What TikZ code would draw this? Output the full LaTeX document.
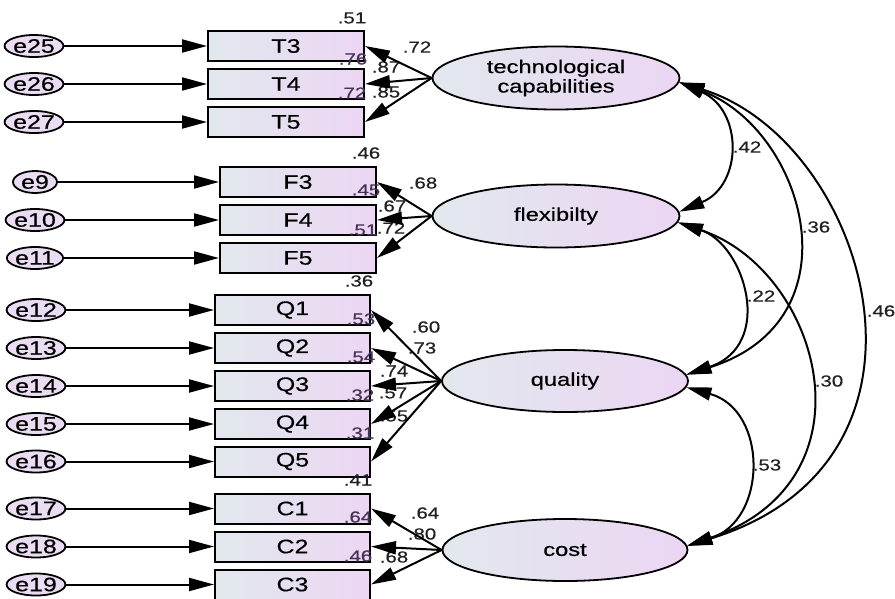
\documentclass[tikz,border=0pt]{standalone}
\usepackage{fontspec}
\usetikzlibrary{shapes.geometric,arrows.meta}
\newfontfamily\amos[FakeStretch=1.28,FakeBold=0.5]{Liberation Sans}
\definecolor{boxL}{RGB}{226,232,238}
\definecolor{boxR}{RGB}{236,214,243}
\definecolor{errfill}{RGB}{234,220,242}
\definecolor{numcol}{RGB}{34,34,34}
\definecolor{rsqcol}{RGB}{70,52,88}
\tikzset{
  obs/.style={draw, line width=2pt, minimum width=156pt, minimum height=30pt, inner sep=0pt,
    left color=boxL, right color=boxR, font=\amos\fontsize{19.5}{19.5}\selectfont},
  lat/.style={ellipse, draw, line width=1.8pt, minimum width=247pt, minimum height=63pt, inner sep=0pt,
    left color=boxL, right color=boxR, align=center, font=\amos\fontsize{18.5}{19.5}\selectfont},
  err/.style={ellipse, draw, line width=1.8pt, minimum width=44pt, minimum height=22pt, inner sep=0pt,
    fill=errfill, font=\amos\fontsize{19.5}{19.5}\selectfont},
  numlbl/.style={inner sep=0pt, font=\amos\fontsize{16}{16}\selectfont, text=numcol},
  rsqlbl/.style={numlbl, text=rsqcol},
  lpath/.style={line width=2pt, -{Triangle[length=25pt,width=13pt]}},
  cov/.style={line width=2pt, {Triangle[length=25pt,width=13pt]}-{Triangle[length=25pt,width=13pt]}},
}
\begin{document}
\begin{tikzpicture}[x=1pt,y=-1pt]
\useasboundingbox[fill=white] (0,0) rectangle (895,598);
% observed boxes
\node[obs] (T3) at (286,46) {T3};
\node[obs] (T4) at (286,84) {T4};
\node[obs] (T5) at (286,122) {T5};
\node[obs] (F3) at (298,182) {F3};
\node[obs] (F4) at (298,220) {F4};
\node[obs] (F5) at (298,258) {F5};
\node[obs, minimum width=155pt] (Q1) at (292.5,310) {Q1};
\node[obs, minimum width=155pt] (Q2) at (292.5,348) {Q2};
\node[obs, minimum width=155pt] (Q3) at (292.5,386) {Q3};
\node[obs, minimum width=155pt] (Q4) at (292.5,424) {Q4};
\node[obs, minimum width=155pt] (Q5) at (292.5,461.5) {Q5};
\node[obs, minimum width=155pt] (C1) at (292.5,508.5) {C1};
\node[obs, minimum width=155pt] (C2) at (292.5,546.5) {C2};
\node[obs, minimum width=155pt] (C3) at (292.5,584.5) {C3};
% error terms
\node[err] (e25) at (34,46) {e25};
\node[err] (e26) at (34,84) {e26};
\node[err] (e27) at (34,122) {e27};
\node[err] (e9) at (35,182) {e9};
\node[err] (e10) at (35,220) {e10};
\node[err] (e11) at (35,258) {e11};
\node[err] (e12) at (36,310) {e12};
\node[err] (e13) at (36,348) {e13};
\node[err] (e14) at (36,386) {e14};
\node[err] (e15) at (36,424) {e15};
\node[err] (e16) at (36,461.5) {e16};
\node[err] (e17) at (36,508.5) {e17};
\node[err] (e18) at (36,546.5) {e18};
\node[err] (e19) at (36,584.5) {e19};
% latent variables
\node[lat] (tech) at (556,78) {technological\\capabilities};
\node[lat] (flex) at (556,216) {flexibilty};
\node[lat, minimum width=246pt, minimum height=62pt] (qual) at (565,381) {quality};
\node[lat, minimum width=245pt, minimum height=62pt] (cost) at (565,550) {cost};
% squared multiple correlations
\node[numlbl] (r1) at (352,18) {.51};
\node[rsqlbl] (r2) at (353,59) {.76};
\node[rsqlbl] (r3) at (352,93) {.72};
\node[numlbl] (r4) at (366,153) {.46};
\node[rsqlbl] (r5) at (366,190) {.45};
\node[rsqlbl] (r6) at (363,230) {.51};
\node[numlbl] (r7) at (359,281) {.36};
\node[rsqlbl] (r8) at (361,319) {.53};
\node[rsqlbl] (r9) at (361,357) {.54};
\node[rsqlbl] (r10) at (360,395) {.32};
\node[rsqlbl] (r11) at (360,433) {.31};
\node[numlbl] (r12) at (358,480) {.41};
\node[rsqlbl] (r13) at (358,517) {.64};
\node[rsqlbl] (r14) at (358,556) {.46};
% loadings
\node[numlbl] (l1) at (417,47) {.72};
\node[numlbl] (l2) at (386,67) {.87};
\node[numlbl] (l3) at (386,92) {.85};
\node[numlbl] (l4) at (423,183) {.68};
\node[numlbl] (l5) at (392,206) {.67};
\node[numlbl] (l6) at (391,228) {.72};
\node[numlbl] (l7) at (426,327) {.60};
\node[numlbl] (l8) at (422,348) {.73};
\node[numlbl] (l9) at (394,371) {.74};
\node[numlbl] (l10) at (393,393) {.57};
\node[numlbl] (l11) at (394,416) {.55};
\node[numlbl] (l12) at (425,513) {.64};
\node[numlbl] (l13) at (422,534) {.80};
\node[numlbl] (l14) at (394,557) {.68};
% correlations
\node[numlbl] (c1) at (747,147) {.42};
\node[numlbl] (c2) at (816,227) {.36};
\node[numlbl] (c3) at (881,311) {.46};
\node[numlbl] (c4) at (761,296) {.22};
\node[numlbl] (c5) at (829,381) {.30};
\node[numlbl] (c6) at (767,465) {.53};
% error paths
\foreach \e/\b in {e25/T3,e26/T4,e27/T5,e9/F3,e10/F4,e11/F5,e12/Q1,e13/Q2,e14/Q3,e15/Q4,e16/Q5,e17/C1,e18/C2,e19/C3}
  \draw[lpath] (\e.east) -- (\b.west);
% loadings paths
\foreach \b in {T3,T4,T5} \draw[lpath] (tech.west) -- (\b.east);
\foreach \b in {F3,F4,F5} \draw[lpath] (flex.west) -- (\b.east);
\foreach \b in {Q1,Q2,Q3,Q4,Q5} \draw[lpath] (qual.west) -- (\b.east);
\foreach \b in {C1,C2,C3} \draw[lpath] (cost.west) -- (\b.east);
% covariances
\draw[cov] (tech.-2.3) .. controls (743,110) and (743,185) .. (flex.2);
\draw[cov] (tech.-2.3) .. controls (805,130) and (860,320) .. (qual.3.8);
\draw[cov] (tech.-2.3) .. controls (866,140) and (965,460) .. (cost.2.3);
\draw[cov] (flex.-3.3) .. controls (745,245) and (775,345) .. (qual.3.8);
\draw[cov] (flex.-3.3) .. controls (820,270) and (880,480) .. (cost.2.3);
\draw[cov] (qual.-3.3) .. controls (768,410) and (768,520) .. (cost.2.3);
\end{tikzpicture}
\end{document}
